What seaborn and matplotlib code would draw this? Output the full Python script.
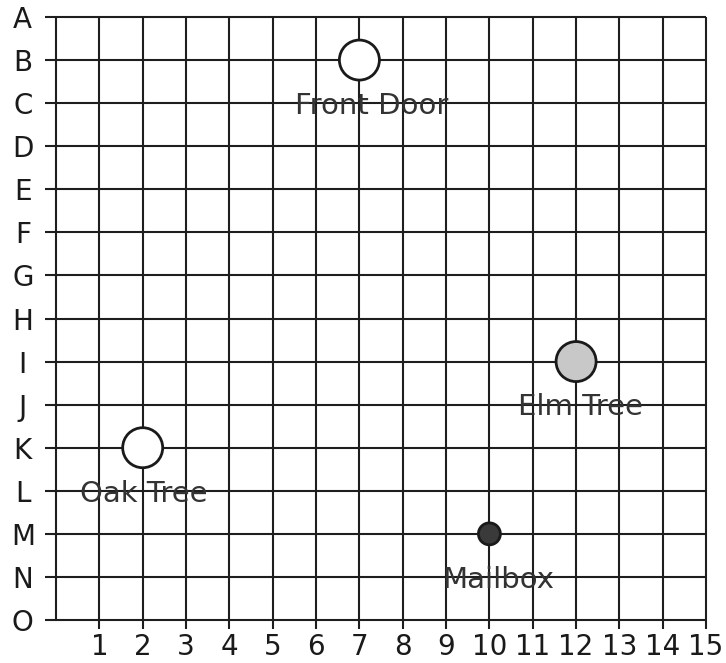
import pandas as pd
import matplotlib.pyplot as plt
import seaborn as sns

rows = list("ABCDEFGHIJKLMNO")
cols = list(range(1, 16))

names = ["Front Door", "Elm Tree", "Oak Tree", "Mailbox"]
col = [7, 12, 2, 10]
row = ["B", "I", "K", "M"]
fills = ["white", "#c8c8c8", "white", "#3a3a3a"]
sizes = [830, 830, 830, 250]

df = pd.DataFrame({"name": names, "col": col, "row": row})
df["y"] = [rows.index(r) for r in df["row"]]

sns.set_style("white")
plt.rcParams['font.family'] = ['DejaVu Sans']

fig = plt.figure(figsize=(7.26, 6.63), dpi=100)
ax = fig.add_axes([45 / 726, 1 - 630 / 663, 665 / 726, 618 / 663])

line_kw = dict(color="#1e1e1e", lw=1.5, zorder=1)
ax.hlines(range(len(rows)), -0.25, cols[-1], **line_kw)
ax.vlines(0, 0, len(rows) - 1, **line_kw)
ax.vlines(cols, 0, len(rows) - 1 + 0.2, **line_kw)

sns.scatterplot(data=df, x="col", y="y", hue="name", size="name",
                palette=dict(zip(names, fills)), sizes=dict(zip(names, sizes)),
                edgecolor="#1a1a1a", linewidth=2, legend=False, zorder=3, ax=ax)

# label offsets below each marker (points)
offsets = {"Front Door": 9, "Elm Tree": 3, "Oak Tree": 1, "Mailbox": 6}
for _, r in df.iterrows():
    ax.annotate(r["name"], (r["col"], r["y"]), textcoords="offset points",
                xytext=(offsets[r["name"]], -33), ha="center", va="center",
                fontsize=21, color="#333333", zorder=4)

ax.set_xlim(-0.254, 15.09)
ax.set_ylim(14.232, -0.116)
ax.set_xticks(cols)
ax.set_xticklabels([str(c) for c in cols])
ax.set_yticks(range(len(rows)))
ax.set_yticklabels(rows)
ax.tick_params(axis="both", length=0, labelsize=20, colors="#1a1a1a")
ax.tick_params(axis="x", pad=2)
ax.tick_params(axis="y", pad=16)
for lab in ax.get_yticklabels():
    lab.set_ha("center")
ax.set_xlabel("")
ax.set_ylabel("")
for s in ax.spines.values():
    s.set_visible(False)

fig.savefig("out.png", dpi=100)
